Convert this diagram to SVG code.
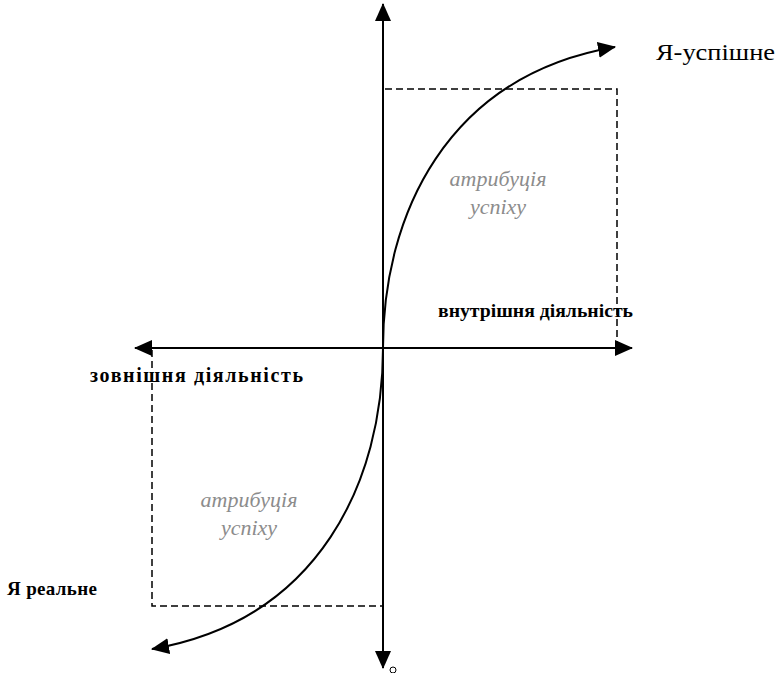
<svg xmlns="http://www.w3.org/2000/svg" width="782" height="673" viewBox="0 0 782 673">
<style>
.ax{stroke:#000;stroke-width:2;fill:none}
.dash{stroke:#000;stroke-width:1.5;fill:none;stroke-dasharray:7 4}
.lbl{font-family:"Liberation Serif","Times New Roman",serif;fill:#000}
.b{font-weight:bold}
.attr{font-family:"Liberation Serif","Times New Roman",serif;font-style:italic;fill:#8c8c8c;font-size:22px;text-anchor:middle}
</style>
<defs>
<marker id="ah" viewBox="0 0 18 16" refX="17" refY="8" markerWidth="18" markerHeight="16" markerUnits="userSpaceOnUse" orient="auto">
<path d="M0,0 L18,8 L0,16 z" fill="#000"/>
</marker>
</defs>
<rect width="782" height="673" fill="#fff"/>
<g id="frames">
<polyline class="dash" points="385,89 617,89 617,348"/>
<polyline class="dash" points="152,350 152,606 382,606"/>
</g>
<g id="connectors">
<line class="ax" x1="383" y1="660" x2="383" y2="4" marker-end="url(#ah)"/>
<line class="ax" x1="383" y1="30" x2="383" y2="668" marker-end="url(#ah)"/>
<line class="ax" x1="383" y1="348" x2="632" y2="348" marker-end="url(#ah)"/>
<line class="ax" x1="383" y1="348" x2="135" y2="348" marker-end="url(#ah)"/>
<path class="ax" d="M383,348 C383,216 446,76 615,47" marker-end="url(#ah)"/>
<path class="ax" d="M383,348 C383,480 320,620 152,649" marker-end="url(#ah)"/>
<circle cx="393" cy="670" r="3" fill="#fff" stroke="#000" stroke-width="1"/>
</g>
<g id="ya-uspishne"><text class="lbl" x="656" y="60" font-size="23" textLength="119" lengthAdjust="spacingAndGlyphs">Я-успішне</text></g>
<g id="vnutrishnia"><text class="lbl b" x="438" y="317" font-size="18" textLength="195" lengthAdjust="spacingAndGlyphs">внутрішня діяльність</text></g>
<g id="zovnishnia"><text class="lbl b" x="90" y="382" font-size="20" textLength="213">зовнішня діяльність</text></g>
<g id="ya-realne"><text class="lbl b" x="7" y="595" font-size="19" textLength="90">Я реальне</text></g>
<g id="attr-top"><text class="attr" x="498" y="186">атрибуція</text><text class="attr" x="498" y="214">успіху</text></g>
<g id="attr-bottom"><text class="attr" x="249" y="507">атрибуція</text><text class="attr" x="249" y="535">успіху</text></g>
</svg>
